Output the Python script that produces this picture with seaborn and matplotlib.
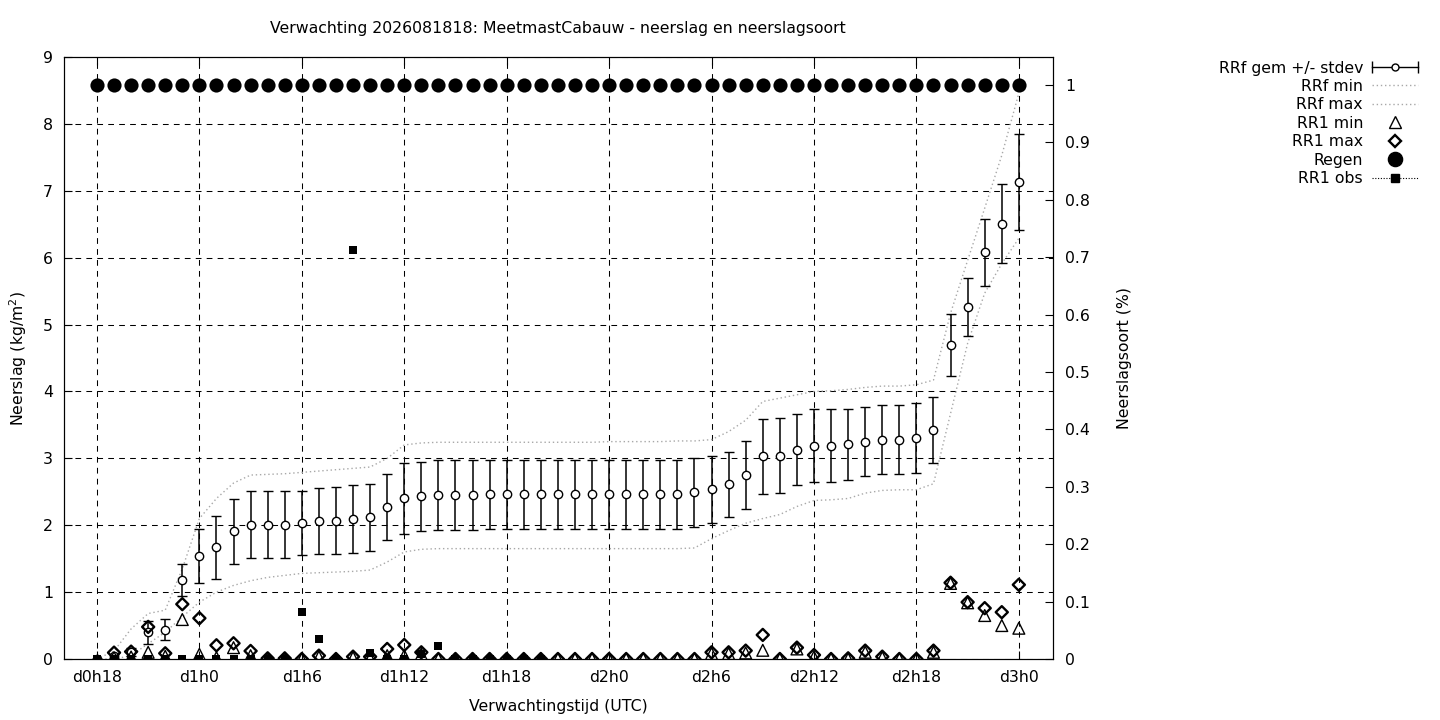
import numpy as np
import matplotlib
matplotlib.use("Agg")
import matplotlib.pyplot as plt
import seaborn as sns
from matplotlib.lines import Line2D
from matplotlib.legend_handler import HandlerLine2D, HandlerTuple
from matplotlib.ticker import FormatStrFormatter

# uren na d0h18 (uurlijkse verwachting)
uren = np.arange(55)
tick_uren = [0, 6, 12, 18, 24, 30, 36, 42, 48, 54]
tick_labels = ["d0h18", "d1h0", "d1h6", "d1h12", "d1h18",
               "d2h0", "d2h6", "d2h12", "d2h18", "d3h0"]

# RRf gemiddelde en stdev (cumulatief)
rrf_gem = [0.0, 0.04, 0.10, 0.40, 0.44, 1.18, 1.54, 1.67, 1.91, 2.01,
           2.01, 2.01, 2.03, 2.06, 2.07, 2.09, 2.12, 2.27, 2.40, 2.43,
           2.45, 2.45, 2.45, 2.46, 2.46, 2.46, 2.46, 2.46, 2.46, 2.46,
           2.46, 2.46, 2.46, 2.46, 2.46, 2.49, 2.54, 2.61, 2.75, 3.03,
           3.04, 3.13, 3.19, 3.19, 3.21, 3.25, 3.28, 3.28, 3.30, 3.42,
           4.70, 5.26, 6.08, 6.51, 7.13]
rrf_std = [0.0, 0.03, 0.06, 0.17, 0.155, 0.24, 0.41, 0.475, 0.485, 0.495,
           0.495, 0.495, 0.48, 0.495, 0.50, 0.51, 0.50, 0.495, 0.535, 0.52,
           0.52, 0.52, 0.52, 0.515, 0.515, 0.515, 0.515, 0.515, 0.515, 0.515,
           0.515, 0.515, 0.515, 0.515, 0.515, 0.51, 0.50, 0.485, 0.51, 0.56,
           0.56, 0.53, 0.55, 0.55, 0.53, 0.52, 0.52, 0.52, 0.52, 0.49,
           0.465, 0.43, 0.50, 0.585, 0.72]
rrf_min = [0.0, 0.0, 0.05, 0.23, 0.40, 0.63, 0.85, 1.00, 1.10, 1.17,
           1.22, 1.25, 1.28, 1.29, 1.30, 1.31, 1.33, 1.45, 1.60, 1.64,
           1.65, 1.65, 1.65, 1.65, 1.65, 1.65, 1.65, 1.65, 1.65, 1.65,
           1.65, 1.65, 1.65, 1.65, 1.65, 1.66, 1.80, 1.92, 2.03, 2.10,
           2.16, 2.28, 2.37, 2.38, 2.40, 2.48, 2.52, 2.53, 2.53, 2.62,
           3.67, 4.72, 5.47, 5.91, 6.29]
rrf_max = [0.0, 0.12, 0.45, 0.68, 0.73, 1.35, 2.10, 2.40, 2.63, 2.75,
           2.76, 2.77, 2.79, 2.81, 2.83, 2.85, 2.87, 3.00, 3.20, 3.23,
           3.24, 3.24, 3.24, 3.24, 3.24, 3.24, 3.24, 3.24, 3.24, 3.24,
           3.25, 3.25, 3.25, 3.25, 3.26, 3.26, 3.28, 3.40, 3.57, 3.85,
           3.90, 3.95, 4.00, 4.01, 4.03, 4.06, 4.08, 4.08, 4.10, 4.17,
           5.17, 5.96, 6.74, 7.53, 8.46]

# RR1 (uursom) min/max
rr1_min = [np.nan, 0.02, 0.03, 0.10, 0.04, 0.59, 0.07, 0.02, 0.17, 0.05,
           0.0, 0.0, 0.0, 0.03, 0.0, 0.02, 0.01, 0.05, 0.05, 0.07,
           0.0, 0.0, 0.0, 0.0, 0.0, 0.0, 0.0, 0.0, 0.0, 0.0,
           0.0, 0.0, 0.0, 0.0, 0.0, 0.0, 0.08, 0.08, 0.09, 0.13,
           0.0, 0.15, 0.03, 0.0, 0.0, 0.10, 0.02, 0.0, 0.0, 0.10,
           1.13, 0.84, 0.65, 0.50, 0.46]
rr1_max = [np.nan, 0.095, 0.11, 0.48, 0.085, 0.82, 0.61, 0.205, 0.235, 0.12,
           0.01, 0.01, 0.0, 0.05, 0.0, 0.035, 0.035, 0.15, 0.21, 0.10,
           0.0, 0.0, 0.0, 0.0, 0.0, 0.0, 0.0, 0.0, 0.0, 0.0,
           0.0, 0.0, 0.0, 0.0, 0.0, 0.0, 0.10, 0.10, 0.125, 0.36,
           0.0, 0.17, 0.06, 0.0, 0.01, 0.125, 0.035, 0.0, 0.0, 0.125,
           1.14, 0.85, 0.76, 0.70, 1.11]

# neerslagsoort regen (fractie, rechter as)
regen = [1.0, 1.0, 1.0, 1.0, 1.0, 1.0, 1.0, 1.0, 1.0, 1.0,
         1.0, 1.0, 1.0, 1.0, 1.0, 1.0, 1.0, 1.0, 1.0, 1.0,
         1.0, 1.0, 1.0, 1.0, 1.0, 1.0, 1.0, 1.0, 1.0, 1.0,
         1.0, 1.0, 1.0, 1.0, 1.0, 1.0, 1.0, 1.0, 1.0, 1.0,
         1.0, 1.0, 1.0, 1.0, 1.0, 1.0, 1.0, 1.0, 1.0, 1.0,
         1.0, 1.0, 1.0, 1.0, 1.0]

# waarnemingen
rr1_obs = [0.0, 0.0, 0.0, 0.0, 0.0, 0.0, 0.0, 0.0, 0.0, 0.0,
           0.0, 0.0, 0.70, 0.30, 0.0, 6.11, 0.09, 0.0, 0.0, 0.08,
           0.195, 0.0, 0.0, 0.0, 0.0, 0.0, 0.0, np.nan, np.nan, np.nan,
           np.nan, np.nan, np.nan, np.nan, np.nan, np.nan, np.nan, np.nan, np.nan, np.nan,
           np.nan, np.nan, np.nan, np.nan, np.nan, np.nan, np.nan, np.nan, np.nan, np.nan,
           np.nan, np.nan, np.nan, np.nan, np.nan]

FS = 11.3
plt.rcParams["font.family"] = ["DejaVu Sans"]
plt.rcParams["font.size"] = FS

fig = plt.figure(figsize=(14.4, 7.2), dpi=100)
ax = fig.add_axes([64 / 1440, 61 / 720, 989 / 1440, 602 / 720])
ax2 = ax.twinx()

grijs = "#a8a8a8"
stip = (0, (1, 2))

# RRf gem +/- stdev
ax.errorbar(uren, rrf_gem, yerr=rrf_std, fmt="o", mfc="white", mec="black",
            ms=6, mew=1, ecolor="black", elinewidth=1.1, capsize=3.3,
            capthick=1.1, zorder=3)
# RRf min / max
sns.lineplot(x=uren, y=rrf_min, color=grijs, lw=1, linestyle=stip,
             errorbar=None, ax=ax, zorder=2)
sns.lineplot(x=uren, y=rrf_max, color=grijs, lw=1, linestyle=stip,
             errorbar=None, ax=ax, zorder=2)
# RR1 min / max
sns.scatterplot(x=uren, y=rr1_min, marker="^", s=72, facecolor="none",
                edgecolor="black", linewidth=1, ax=ax, zorder=4)
sns.scatterplot(x=uren, y=rr1_max, marker="D", s=38, facecolor="none",
                edgecolor="black", linewidth=1.7, ax=ax, zorder=5)
# RR1 obs
sns.scatterplot(x=uren, y=rr1_obs, marker="s", s=26, color="black",
                linewidth=0, ax=ax, zorder=6)
# Regen
sns.scatterplot(x=uren, y=regen, marker="o", s=104, color="black",
                linewidth=0, ax=ax2, zorder=3)

ax.set_xlim(-1.93, 56.0)
ax.set_ylim(0, 9)
ax2.set_ylim(0, 1.0488)

ax.set_xticks(tick_uren)
ax.set_xticklabels(tick_labels)
ax.set_yticks(range(10))
ax2.set_yticks(np.arange(0, 1.01, 0.1))
ax2.yaxis.set_major_formatter(FormatStrFormatter("%g"))

ax.grid(True, color="black", linestyle=(0, (5.5, 5)), linewidth=0.75)
ax.set_axisbelow(True)

ax.tick_params(axis="x", direction="in", length=6, width=0.8, pad=8,
               top=True, labelsize=FS)
ax.tick_params(axis="y", direction="in", length=6, width=0.8, pad=8,
               labelsize=FS)
ax2.tick_params(axis="y", direction="in", length=6, width=0.8, pad=9,
                labelsize=FS)
for a in (ax, ax2):
    for sp in a.spines.values():
        sp.set_color("black")
        sp.set_linewidth(0.8)

ax.set_xlabel("Verwachtingstijd (UTC)", fontsize=FS)
ax.xaxis.set_label_coords(0.5, (659 - 707) / 602)
ax.xaxis.label.set_va("center")
ax.set_ylabel("Neerslag (kg/m$^2$)", fontsize=FS)
ax.yaxis.set_label_coords((18 - 64) / 989, 0.5)
ax.yaxis.label.set_va("center")
ax2.set_ylabel("Neerslagsoort (%)", fontsize=FS)
ax2.yaxis.set_label_coords((1124 - 64) / 989, 0.5)
ax2.yaxis.label.set_va("center")

fig.text(558 / 1440, 1 - 29 / 720,
         "Verwachting 2026081818: MeetmastCabauw - neerslag en neerslagsoort",
         ha="center", va="center", fontsize=FS)

# legenda
kap = Line2D([], [], color="black", lw=1, marker="|", ms=8, mew=1)
bol = Line2D([], [], ls="none", marker="o", mfc="white", mec="black", ms=5, mew=1)
h_min = Line2D([], [], color=grijs, lw=1, ls=stip)
h_max = Line2D([], [], color=grijs, lw=1, ls=stip)
h_tri = Line2D([], [], ls="none", marker="^", mfc="none", mec="black", ms=8.5, mew=1)
h_dia = Line2D([], [], ls="none", marker="D", mfc="none", mec="black", ms=6.2, mew=1.7)
h_reg = Line2D([], [], ls="none", marker="o", color="black", ms=10.2)
h_obs = Line2D([], [], color="black", lw=0.8, ls=(0, (1, 1.5)), marker="s", ms=5.1)
gem = (kap, bol)
fig.legend([gem, h_min, h_max, h_tri, h_dia, h_reg, h_obs],
           ["RRf gem +/- stdev", "RRf min", "RRf max", "RR1 min",
            "RR1 max", "Regen", "RR1 obs"],
           handler_map={kap: HandlerLine2D(numpoints=2, marker_pad=0),
                        gem: HandlerTuple(ndivide=1)},
           loc="upper right", bbox_to_anchor=(1418 / 1440, 1 - 60.5 / 720),
           frameon=False, markerfirst=False, handlelength=2.9,
           handletextpad=0.6, labelspacing=0.22, borderpad=0,
           borderaxespad=0, fontsize=FS)

fig.savefig("out.png", dpi=100)
